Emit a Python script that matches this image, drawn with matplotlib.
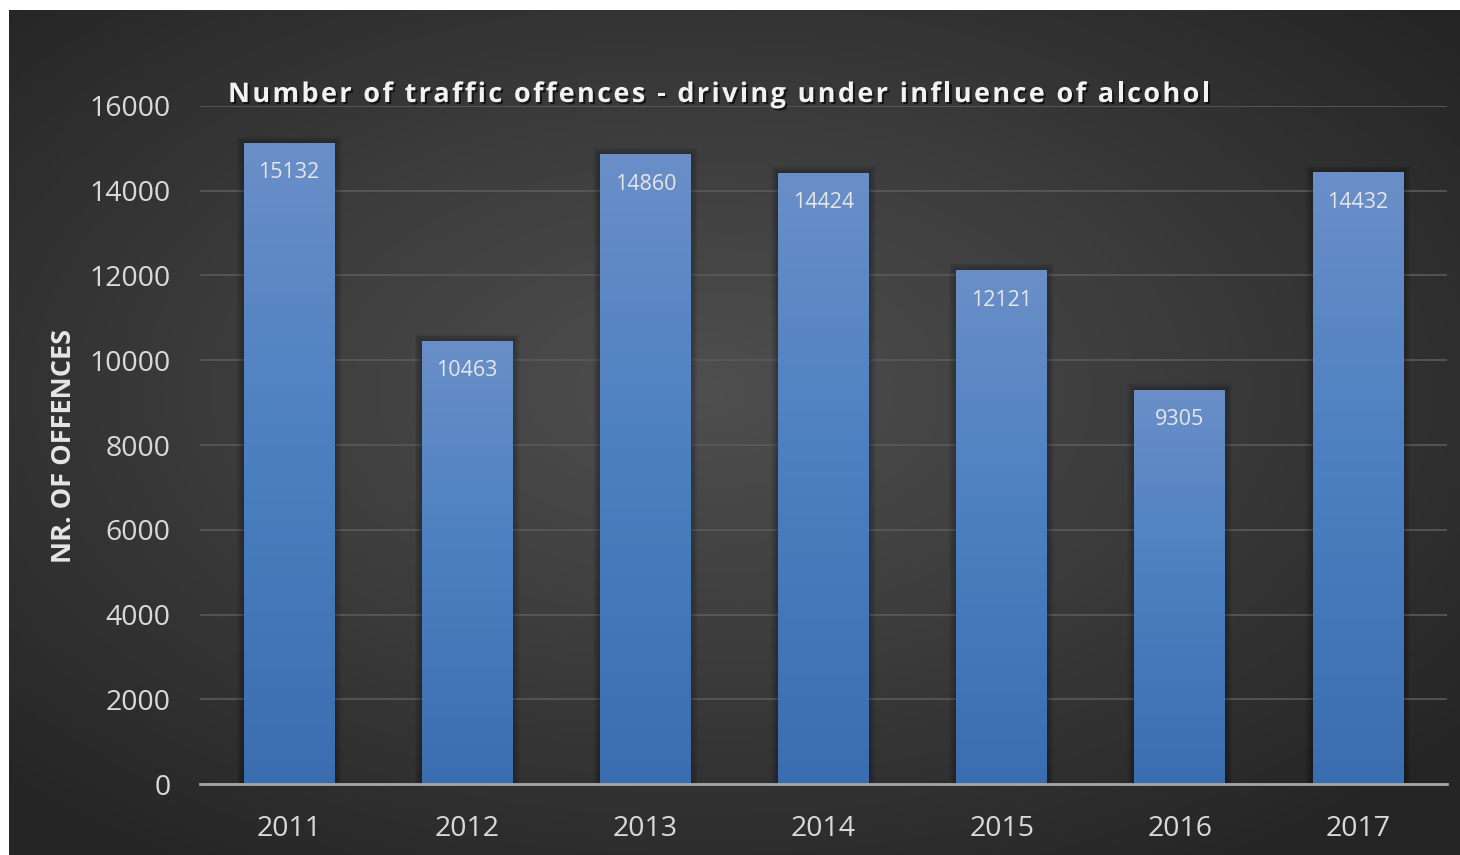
"""Bar chart: traffic offences for driving under influence of alcohol, 2011-2017."""

import numpy as np
import matplotlib.pyplot as plt
import matplotlib.patheffects as pe
from matplotlib.colors import LinearSegmentedColormap
from matplotlib.font_manager import FontProperties, findfont, get_font
from matplotlib.patches import Rectangle

years = ["2011", "2012", "2013", "2014", "2015", "2016", "2017"]
offences = [15132, 10463, 14860, 14424, 12121, 9305, 14432]
y_ticks = [0, 2000, 4000, 6000, 8000, 10000, 12000, 14000, 16000]

TITLE = "Number of traffic offences - driving under influence of alcohol"
Y_LABEL = "NR. OF OFFENCES"

FIG_W, FIG_H, DPI = 14.6, 8.55, 100
FONT = "Open Sans"
TEXT_COLOR = "#d9d9d9"


def spaced_title(fig, text, center_px, y_frac, target_width_px, size):
    """Draw text with extra letter spacing so it spans target_width_px."""
    prop = FontProperties(family=FONT, weight="bold", size=size)
    font = get_font(findfont(prop))
    font.set_size(size, DPI)
    advances = []
    for ch in text:
        glyph = font.load_char(ord(ch))
        advances.append(glyph.linearHoriAdvance / 65536)
    spacing = (target_width_px - sum(advances)) / (len(text) - 1)
    x = center_px - target_width_px / 2
    effects = [pe.SimplePatchShadow(offset=(1.5, -1.5), shadow_rgbFace="black", alpha=0.6),
               pe.Normal()]
    for ch, adv in zip(text, advances):
        if ch != " ":
            fig.text(x / (FIG_W * DPI), y_frac, ch, fontproperties=prop, color="#f2f2f2",
                     ha="left", va="baseline", path_effects=effects)
        x += adv + spacing


def main() -> None:
    fig = plt.figure(figsize=(FIG_W, FIG_H), dpi=DPI)
    fig.patch.set_facecolor("white")

    # dark radial background panel
    bg_ax = fig.add_axes([9 / 1460, 0, 1 - 9 / 1460, 1 - 10 / 855])
    bg_ax.set_axis_off()
    yy, xx = np.mgrid[-1:1:400j, -1:1:700j]
    r = np.sqrt((xx + 0.05) ** 2 + (yy + 0.1) ** 2)
    bg_cmap = LinearSegmentedColormap.from_list("bg", ["#4f4f4f", "#3b3b3b", "#252525"])
    bg_ax.imshow(r, cmap=bg_cmap, aspect="auto", vmin=0, vmax=1.35, interpolation="bilinear")

    ax = fig.add_axes([200 / 1460, 71 / 855, 1247 / 1460, 678 / 855])
    ax.set_facecolor("none")
    x = np.arange(len(years))
    width = 0.51

    bar_cmap = LinearSegmentedColormap.from_list("bar", ["#3a6eb0", "#4a7fc0", "#6a8fc8"])
    gradient = np.linspace(0, 1, 256).reshape(-1, 1)
    bars = ax.bar(x, offences, width=width, color="none", zorder=3)
    for bar in bars:
        x0, w, h = bar.get_x(), bar.get_width(), bar.get_height()
        # soft shadow around each bar
        for k in np.linspace(0.004, 0.04, 8):
            ax.add_patch(Rectangle((x0 - k, 0), w + 2 * k, h + k * 4000, facecolor="black",
                                   alpha=0.035, edgecolor="none", zorder=2))
        im = ax.imshow(gradient, cmap=bar_cmap, origin="lower", aspect="auto",
                       extent=[x0, x0 + w, 0, h], zorder=3)
        im.set_clip_path(bar)
        ax.annotate(f"{h:.0f}", (bar.get_x() + w / 2, h), xytext=(0, -21.5),
                    textcoords="offset points", ha="center", va="center",
                    fontsize=15.5, family=FONT, color="#e6e6e6", zorder=4)

    ax.set_xlim(-0.5, len(years) - 0.5)
    ax.set_ylim(0, 16000)
    ax.set_xticks(x, years)
    ax.set_yticks(y_ticks, [str(t) for t in y_ticks])
    ax.tick_params(axis="both", length=0, labelsize=20.5, labelcolor=TEXT_COLOR)
    ax.tick_params(axis="y", pad=21)
    ax.tick_params(axis="x", pad=22)
    for lab in ax.get_xticklabels() + ax.get_yticklabels():
        lab.set_family(FONT)

    ax.yaxis.grid(True, color="#5a5a5a", linewidth=1.2, zorder=1)
    ax.set_axisbelow(True)
    for side in ["top", "right", "left"]:
        ax.spines[side].set_visible(False)
    ax.spines["bottom"].set_color("#a6a6a6")
    ax.spines["bottom"].set_linewidth(2)
    ax.spines["bottom"].set_zorder(5)

    fig.text(64 / 1460, 1 - 446 / 855, Y_LABEL, rotation=90, ha="center", va="center",
             fontsize=19.5, fontweight="bold", family=FONT, color="#e6e6e6")

    spaced_title(fig, TITLE, 719, 1 - 102 / 855, 982, 19.5)

    fig.savefig("out.png", dpi=DPI)
    plt.close(fig)


if __name__ == "__main__":
    main()
